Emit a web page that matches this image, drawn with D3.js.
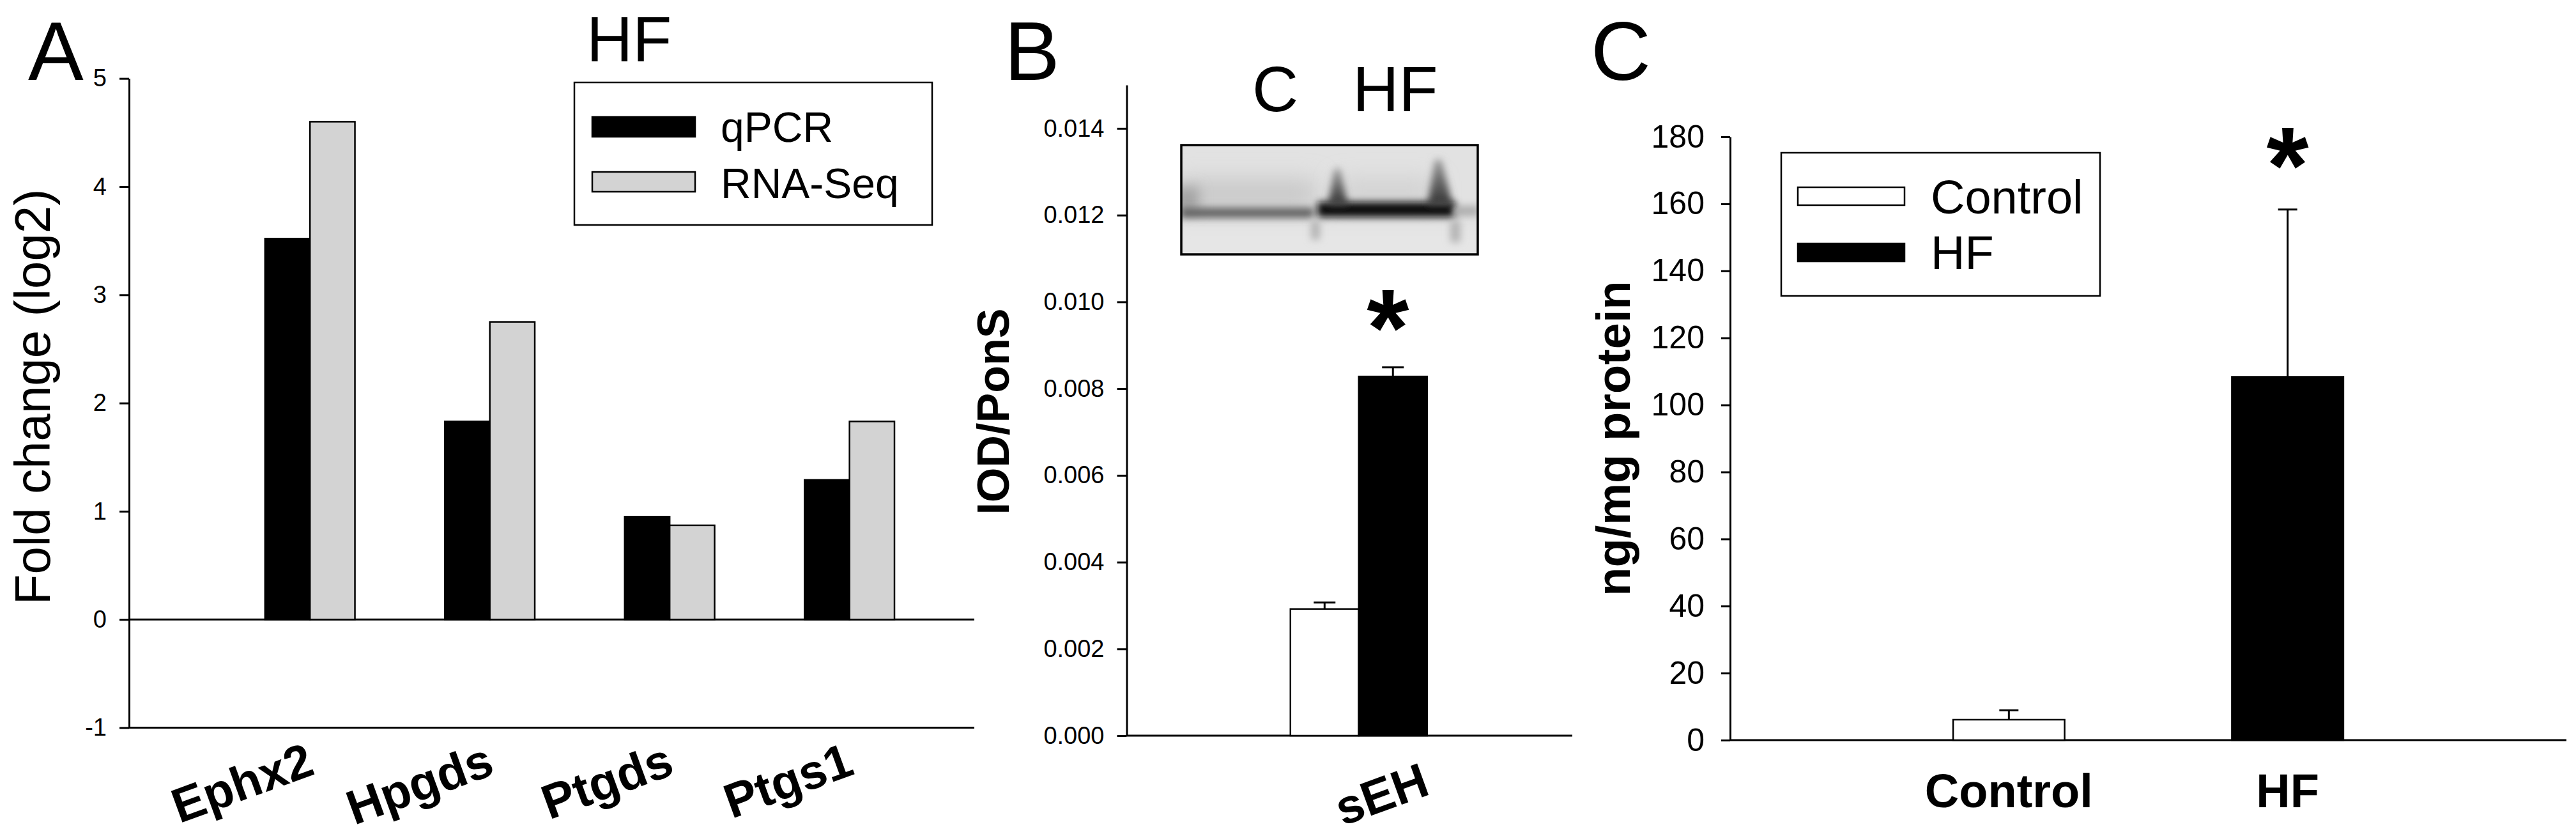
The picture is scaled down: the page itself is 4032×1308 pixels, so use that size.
<!DOCTYPE html>
<html>
<head>
<meta charset="utf-8">
<script src="https://cdn.jsdelivr.net/npm/d3@7"></script>
<style>
  body { margin: 0; background: #fff; }
</style>
</head>
<body>
<script>
// ---- data ----
const genes = ['Ephx2', 'Hpgds', 'Ptgds', 'Ptgs1'];
const seriesA = ['qPCR', 'RNA-Seq'];
const qpcr = [3.52, 1.83, 0.95, 1.29];
const rnaSeq = [4.60, 2.75, 0.87, 1.83];
const ticksA = [-1, 0, 1, 2, 3, 4, 5];

const groupB = ['sEH'];
const seriesB = ['C', 'HF'];
const sehMean = [0.00292, 0.00828];
const sehErr = [0.00015, 0.00021];
const ticksB = [0, 0.002, 0.004, 0.006, 0.008, 0.010, 0.012, 0.014];

const groupsC = ['Control', 'HF'];
const protMean = [6.1, 108.4];
const protErr = [2.8, 49.9];
const ticksC = [0, 20, 40, 60, 80, 100, 120, 140, 160, 180];

const font = 'Liberation Sans, Arial, Helvetica, sans-serif';
const grey = '#d3d3d3';

const svg = d3.select('body')
  .append('svg')
  .attr('width', 4032)
  .attr('height', 1308)
  .style('font-family', font);

const styleAxis = (g, size) => {
  g.selectAll('path, line').attr('stroke', '#000').attr('stroke-width', 3);
  g.selectAll('text').attr('font-size', size).attr('font-family', font).attr('fill', '#000');
};

const errorBar = (g, x, y0, y1, half) => {
  g.append('line').attr('x1', x).attr('x2', x).attr('y1', y0).attr('y2', y1)
    .attr('stroke', '#000').attr('stroke-width', 3);
  g.append('line').attr('x1', x - half).attr('x2', x + half).attr('y1', y1).attr('y2', y1)
    .attr('stroke', '#000').attr('stroke-width', 3);
};

// ================= Panel A =================
const yA = d3.scaleLinear().domain([-1, 5]).range([1138.5, 122.7]);
const xA = d3.scaleBand().domain(genes).range([202, 1525])
  .paddingInner(0.5).paddingOuter(0.6).align(0.63);
const subA = d3.scaleBand().domain(seriesA).range([0, xA.bandwidth()]);

const gA = svg.append('g');

gA.append('g')
  .attr('transform', 'translate(202,0)')
  .call(d3.axisLeft(yA).tickValues(ticksA).tickFormat(d => String(d))
    .tickSize(15).tickPadding(20).tickSizeOuter(0))
  .call(g => styleAxis(g, 38));

[0, -1].forEach(v => {
  gA.append('line')
    .attr('x1', xA.range()[0]).attr('x2', xA.range()[1])
    .attr('y1', yA(v)).attr('y2', yA(v))
    .attr('stroke', '#000').attr('stroke-width', 3);
});

const rowsA = genes.map((g, i) => ({ gene: g, values: [qpcr[i], rnaSeq[i]] }));
gA.selectAll('g.gene')
  .data(rowsA)
  .enter()
  .append('g')
  .classed('gene', true)
  .attr('transform', d => `translate(${xA(d.gene)},0)`)
  .selectAll('rect')
  .data(d => d.values.map((v, j) => ({ key: seriesA[j], v })))
  .enter()
  .append('rect')
  .attr('x', d => subA(d.key))
  .attr('width', subA.bandwidth())
  .attr('y', d => yA(d.v))
  .attr('height', d => yA(0) - yA(d.v))
  .attr('fill', d => d.key === 'qPCR' ? '#000' : grey)
  .attr('stroke', '#000')
  .attr('stroke-width', 2.5);

gA.selectAll('text.gene-label')
  .data(genes)
  .enter()
  .append('text')
  .classed('gene-label', true)
  .attr('text-anchor', 'end')
  .attr('font-size', 76)
  .attr('font-weight', 'bold')
  .attr('transform', d => `translate(${xA(d) + xA.bandwidth() / 2 + 10},${yA(-1) + 72}) rotate(-20)`)
  .text(d => d);

gA.append('text')
  .attr('transform', 'translate(78,621) rotate(-90)')
  .attr('text-anchor', 'middle')
  .attr('font-size', 78)
  .text('Fold change (log2)');

gA.append('text').attr('x', 44).attr('y', 125).attr('font-size', 130).text('A');
gA.append('text').attr('x', 918).attr('y', 96).attr('font-size', 100).text('HF');

// legend A
const legA = gA.append('g');
legA.append('rect').attr('x', 899).attr('y', 129).attr('width', 560).attr('height', 223)
  .attr('fill', 'none').attr('stroke', '#000').attr('stroke-width', 2.5);
seriesA.forEach((s, i) => {
  legA.append('rect')
    .attr('x', 927).attr('y', 183 + i * 86).attr('width', 161).attr('height', 31)
    .attr('fill', i === 0 ? '#000' : grey).attr('stroke', '#000').attr('stroke-width', 2.5);
  legA.append('text')
    .attr('x', 1128).attr('y', 222 + i * 88)
    .attr('font-size', 66)
    .text(s);
});

// ================= Panel B =================
const yB = d3.scaleLinear().domain([0, 0.015]).range([1151, 133]);
const xB = d3.scaleBand().domain(groupB).range([1763.5, 2461])
  .paddingOuter(1.13).align(0.53);
const subB = d3.scaleBand().domain(seriesB).range([0, xB.bandwidth()]);

const gB = svg.append('g');

gB.append('g')
  .attr('transform', 'translate(1763.5,0)')
  .call(d3.axisLeft(yB).tickValues(ticksB).tickFormat(d3.format('.3f'))
    .tickSize(15).tickPadding(20).tickSizeOuter(0))
  .call(g => styleAxis(g, 38));

gB.append('line')
  .attr('x1', xB.range()[0]).attr('x2', xB.range()[1])
  .attr('y1', yB(0)).attr('y2', yB(0))
  .attr('stroke', '#000').attr('stroke-width', 3);

seriesB.forEach((s, i) => {
  const x = xB('sEH') + subB(s);
  gB.append('rect')
    .attr('x', x).attr('width', subB.bandwidth())
    .attr('y', yB(sehMean[i])).attr('height', yB(0) - yB(sehMean[i]))
    .attr('fill', i === 0 ? '#fff' : '#000')
    .attr('stroke', '#000').attr('stroke-width', 2.5);
  errorBar(gB, x + subB.bandwidth() / 2, yB(sehMean[i]), yB(sehMean[i] + sehErr[i]), 17);
});

gB.append('text')
  .attr('text-anchor', 'middle')
  .attr('font-size', 170).attr('font-weight', 'bold')
  .attr('x', xB('sEH') + subB('HF') + subB.bandwidth() / 2 - 8)
  .attr('y', 572)
  .text('*');

gB.append('text')
  .attr('text-anchor', 'end')
  .attr('font-size', 76).attr('font-weight', 'bold')
  .attr('transform', `translate(${xB('sEH') + xB.bandwidth() / 2 + 114},1242) rotate(-20)`)
  .text('sEH');

gB.append('text')
  .attr('transform', 'translate(1579,644) rotate(-90)')
  .attr('text-anchor', 'middle')
  .attr('font-size', 70).attr('font-weight', 'bold')
  .text('IOD/PonS');

gB.append('text').attr('x', 1572).attr('y', 125).attr('font-size', 130).text('B');

// western blot inset (picture, not data)
const blot = { x: 1849, y: 227, w: 464, h: 171 };
const defs = svg.append('defs');
defs.append('clipPath').attr('id', 'blotClip')
  .append('rect').attr('x', blot.x).attr('y', blot.y).attr('width', blot.w).attr('height', blot.h);
[6, 10, 18].forEach(s => {
  defs.append('filter').attr('id', 'blur' + s)
    .attr('filterUnits', 'userSpaceOnUse')
    .attr('x', blot.x - 60).attr('y', blot.y - 60).attr('width', blot.w + 120).attr('height', blot.h + 120)
    .append('feGaussianBlur').attr('stdDeviation', s);
});
const armGrad = defs.append('linearGradient').attr('id', 'armGrad')
  .attr('x1', 0).attr('y1', 0).attr('x2', 0).attr('y2', 1);
armGrad.append('stop').attr('offset', '0%').attr('stop-color', '#9a9a9a');
armGrad.append('stop').attr('offset', '100%').attr('stop-color', '#303030');

const gBlot = gB.append('g').attr('clip-path', 'url(#blotClip)');
const blob = (shape, attrs, blur) => {
  const el = gBlot.append(shape);
  Object.entries(attrs).forEach(([k, v]) => el.attr(k, v));
  el.attr('filter', `url(#blur${blur})`);
};
gBlot.append('rect').attr('x', blot.x).attr('y', blot.y).attr('width', blot.w).attr('height', blot.h).attr('fill', '#e2e2e2');
// haze above bands
blob('rect', { x: 1845, y: 282, width: 215, height: 42, fill: '#c6c6c6' }, 18);
blob('rect', { x: 2095, y: 282, width: 150, height: 34, fill: '#cfcfcf' }, 18);
blob('rect', { x: 1840, y: 292, width: 36, height: 40, fill: '#a2a2a2' }, 10);
// lower light region
blob('rect', { x: 1840, y: 358, width: 480, height: 50, fill: '#e6e6e6' }, 10);
// C lane band
blob('rect', { x: 1848, y: 325, width: 208, height: 16, fill: '#626262' }, 6);
// HF lane band
blob('rect', { x: 2062, y: 316, width: 216, height: 24, fill: '#080808' }, 6);
blob('rect', { x: 2275, y: 322, width: 40, height: 16, fill: '#adadad' }, 6);
blob('path', { d: 'M2078,322 L2089,264 L2097,264 L2110,322 Z', fill: 'url(#armGrad)' }, 6);
blob('path', { d: 'M2234,322 L2246,250 L2256,250 L2274,322 Z', fill: 'url(#armGrad)' }, 6);
// faint smudges below the HF band ends
blob('rect', { x: 2052, y: 345, width: 14, height: 30, fill: '#b4b4b4' }, 6);
blob('rect', { x: 2270, y: 345, width: 16, height: 34, fill: '#b4b4b4' }, 6);
gB.append('rect').attr('x', blot.x).attr('y', blot.y).attr('width', blot.w).attr('height', blot.h)
  .attr('fill', 'none').attr('stroke', '#000').attr('stroke-width', 3.5);

gB.append('text').attr('x', 1996).attr('y', 174).attr('text-anchor', 'middle').attr('font-size', 100).text(seriesB[0]);
gB.append('text').attr('x', 2184).attr('y', 174).attr('text-anchor', 'middle').attr('font-size', 100).text(seriesB[1]);

// ================= Panel C =================
const yC = d3.scaleLinear().domain([0, 180]).range([1158, 214]);
const xC = d3.scaleBand().domain(groupsC).range([2708, 4017])
  .paddingInner(0.6).paddingOuter(0.8).align(0.5);

const gC = svg.append('g');

gC.append('g')
  .attr('transform', 'translate(2708,0)')
  .call(d3.axisLeft(yC).tickValues(ticksC).tickFormat(d3.format('d'))
    .tickSize(14).tickPadding(26).tickSizeOuter(0))
  .call(g => styleAxis(g, 50));

gC.append('line')
  .attr('x1', xC.range()[0]).attr('x2', xC.range()[1])
  .attr('y1', yC(0)).attr('y2', yC(0))
  .attr('stroke', '#000').attr('stroke-width', 3);

groupsC.forEach((grp, i) => {
  const x = xC(grp);
  gC.append('rect')
    .attr('x', x).attr('width', xC.bandwidth())
    .attr('y', yC(protMean[i])).attr('height', yC(0) - yC(protMean[i]))
    .attr('fill', i === 0 ? '#fff' : '#000')
    .attr('stroke', '#000').attr('stroke-width', 2.5);
  errorBar(gC, x + xC.bandwidth() / 2, yC(protMean[i]), yC(protMean[i] + protErr[i]), 15);
  gC.append('text')
    .attr('x', x + xC.bandwidth() / 2).attr('y', 1263)
    .attr('text-anchor', 'middle')
    .attr('font-size', 74).attr('font-weight', 'bold')
    .text(grp);
});

gC.append('text')
  .attr('text-anchor', 'middle')
  .attr('font-size', 170).attr('font-weight', 'bold')
  .attr('x', xC('HF') + xC.bandwidth() / 2)
  .attr('y', 318)
  .text('*');

gC.append('text')
  .attr('transform', 'translate(2551,686) rotate(-90)')
  .attr('text-anchor', 'middle')
  .attr('font-size', 74).attr('font-weight', 'bold')
  .text('ng/mg protein');

gC.append('text').attr('x', 2490).attr('y', 125).attr('font-size', 130).text('C');

// legend C
const legC = gC.append('g');
legC.append('rect').attr('x', 2788).attr('y', 239).attr('width', 499).attr('height', 224)
  .attr('fill', 'none').attr('stroke', '#000').attr('stroke-width', 2.5);
groupsC.forEach((grp, i) => {
  legC.append('rect')
    .attr('x', 2814).attr('y', 293 + i * 88).attr('width', 167).attr('height', 28)
    .attr('fill', i === 0 ? '#fff' : '#000').attr('stroke', '#000').attr('stroke-width', 2.5);
  legC.append('text')
    .attr('x', 3022).attr('y', 334 + i * 87)
    .attr('font-size', 74)
    .text(grp);
});
</script>
</body>
</html>
